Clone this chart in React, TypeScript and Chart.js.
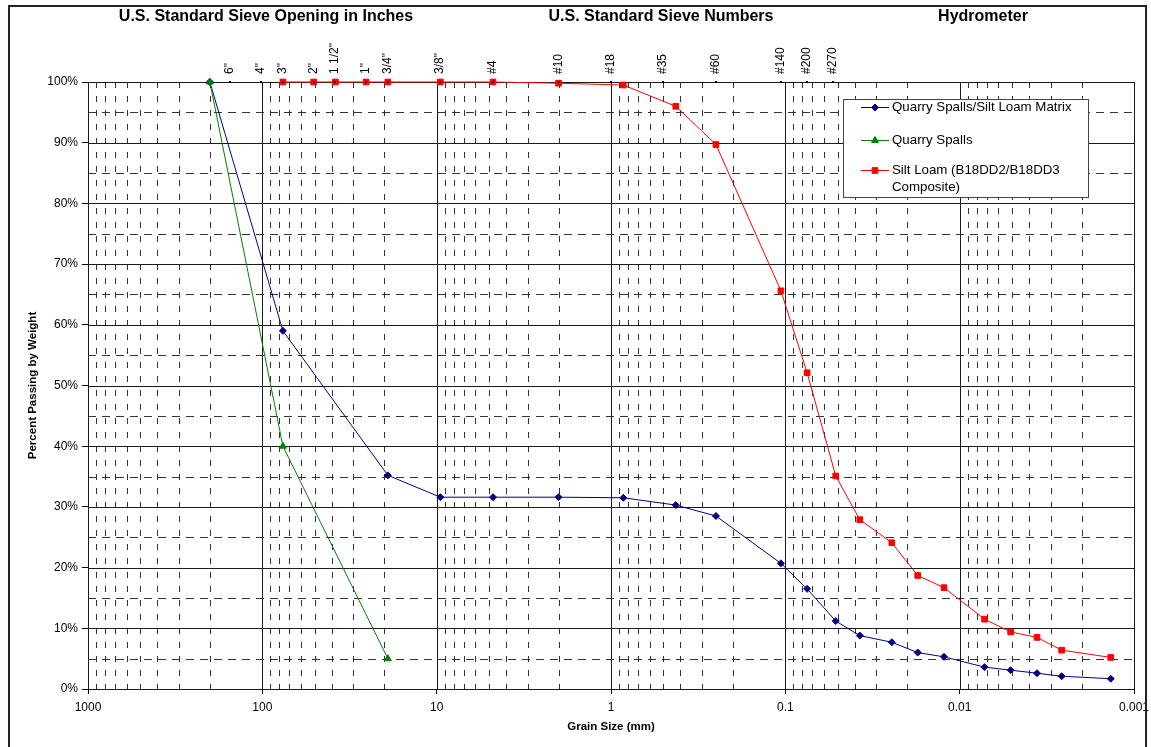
import React, { useEffect, useRef } from "react";
import { Chart, registerables } from "chart.js";
import { drawPoint } from "chart.js/helpers";

Chart.register(...registerables);

const FONT = "'Liberation Sans', Arial, Helvetica, sans-serif";

// Grain size (mm) and percent passing
const matrixSizes = [200, 76.2, 19.05, 9.525, 4.75, 2.0, 0.85, 0.425, 0.25, 0.106, 0.075, 0.0514, 0.0374, 0.0245, 0.0174, 0.0123, 0.0072, 0.0051, 0.0036, 0.0026, 0.00136];
const matrixPassing = [100, 59.0, 35.2, 31.6, 31.6, 31.6, 31.5, 30.3, 28.5, 20.7, 16.5, 11.2, 8.8, 7.7, 6.0, 5.3, 3.6, 3.1, 2.6, 2.1, 1.7];

const spallsSizes = [200, 76.2, 19.05];
const spallsPassing = [100, 40.0, 5.0];

const siltSizes = [76.2, 50.8, 38.1, 25.4, 19.05, 9.525, 4.75, 2.0, 0.85, 0.425, 0.25, 0.106, 0.075, 0.0514, 0.0374, 0.0245, 0.0174, 0.0123, 0.0072, 0.0051, 0.0036, 0.0026, 0.00136];
const siltPassing = [100, 100, 100, 100, 100, 100, 100, 99.8, 99.5, 96.0, 89.7, 65.6, 52.1, 35.1, 27.9, 24.1, 18.7, 16.7, 11.5, 9.4, 8.5, 6.4, 5.2];

const seriesNames = ["Quarry Spalls/Silt Loam Matrix", "Quarry Spalls", "Silt Loam (B18DD2/B18DD3 Composite)"];
const legendLines = [["Quarry Spalls/Silt Loam Matrix"], ["Quarry Spalls"], ["Silt Loam (B18DD2/B18DD3", "Composite)"]];

const sieveLabels = ['6"', '4"', '3"', '2"', '1 1/2"', '1"', '3/4"', '3/8"', "#4", "#10", "#18", "#35", "#60", "#140", "#200", "#270"];
const sieveSizes = [152.4, 101.6, 76.2, 50.8, 38.1, 25.4, 19.05, 9.525, 4.75, 2.0, 1.0, 0.5, 0.25, 0.106, 0.075, 0.053];

const headerTitles = ["U.S. Standard Sieve Opening in Inches", "U.S. Standard Sieve Numbers", "Hydrometer"];

const xTickValues = [1000, 100, 10, 1, 0.1, 0.01, 0.001];
const yTickValues = [0, 10, 20, 30, 40, 50, 60, 70, 80, 90, 100];
const yHalfValues = [5, 15, 25, 35, 45, 55, 65, 75, 85, 95];

const toPoints = (xs: number[], ys: number[]) => xs.map((x, i) => ({ x, y: ys[i] }));

const decorPlugin = {
  id: "decor",
  beforeDatasetsDraw(chart: any) {
    const { ctx, chartArea: a, scales } = chart;
    const xs = scales.x;
    const ys = scales.y;
    ctx.save();
    ctx.lineWidth = 1;
    // minor vertical dashed lines
    ctx.strokeStyle = "#333";
    ctx.setLineDash([6, 8]);
    for (let e = -3; e < 3; e++) {
      const d = Math.pow(10, e);
      for (let m = 2; m <= 9; m++) {
        const x = Math.round(xs.getPixelForValue(m * d)) + 0.5;
        ctx.beginPath();
        ctx.moveTo(x, a.top);
        ctx.lineTo(x, a.bottom);
        ctx.stroke();
      }
    }
    // half-step horizontal dashed
    ctx.setLineDash([8, 6]);
    ctx.strokeStyle = "#333";
    yHalfValues.forEach((v) => {
      const y = Math.round(ys.getPixelForValue(v)) + 0.5;
      ctx.beginPath();
      ctx.moveTo(a.left, y);
      ctx.lineTo(a.right, y);
      ctx.stroke();
    });
    ctx.setLineDash([]);
    ctx.strokeStyle = "#1a1a1a";
    xTickValues.forEach((v) => {
      const x = Math.round(xs.getPixelForValue(v)) + 0.5;
      ctx.beginPath();
      ctx.moveTo(x, a.top);
      ctx.lineTo(x, a.bottom);
      ctx.stroke();
    });
    yTickValues.forEach((v) => {
      const y = Math.round(ys.getPixelForValue(v)) + 0.5;
      ctx.beginPath();
      ctx.moveTo(a.left, y);
      ctx.lineTo(a.right, y);
      ctx.stroke();
    });
    ctx.restore();
  },
  afterDatasetsDraw(chart: any) {
    const { ctx, chartArea: a, scales } = chart;
    const xs = scales.x;
    ctx.save();
    // sieve marks and labels
    ctx.fillStyle = "#000";
    ctx.font = `12px ${FONT}`;
    sieveSizes.forEach((s, i) => {
      const x = xs.getPixelForValue(s);
      ctx.fillRect(Math.round(x) - 1, Math.round(a.top) - 1, 2, 2);
      ctx.save();
      ctx.translate(Math.round(x), a.top - 8);
      ctx.rotate(-Math.PI / 2);
      ctx.textAlign = "left";
      ctx.textBaseline = "middle";
      ctx.fillText(sieveLabels[i], 0, 0);
      ctx.restore();
    });
    // header titles
    ctx.font = `bold 16px ${FONT}`;
    ctx.textAlign = "center";
    ctx.textBaseline = "middle";
    const headerX = [266, 661, 983];
    headerTitles.forEach((t, i) => ctx.fillText(t, headerX[i], 17));

    // legend
    const lx = 843, ly = 99, lw = 245, lh = 98;
    ctx.fillStyle = "#fff";
    ctx.fillRect(lx, ly, lw, lh);
    ctx.strokeStyle = "#444";
    ctx.lineWidth = 1;
    ctx.strokeRect(lx + 0.5, ly + 0.5, lw, lh);
    const rowY = [107, 140, 170];
    ctx.font = `13.3px ${FONT}`;
    ctx.textAlign = "left";
    ctx.textBaseline = "middle";
    chart.data.datasets.forEach((ds: any, i: number) => {
      const y = rowY[i];
      ctx.strokeStyle = ds.borderColor;
      ctx.lineWidth = 1;
      ctx.beginPath();
      ctx.moveTo(861, y + 0.5);
      ctx.lineTo(889, y + 0.5);
      ctx.stroke();
      ctx.fillStyle = ds.pointBackgroundColor;
      ctx.strokeStyle = ds.pointBorderColor;
      drawPoint(ctx, { pointStyle: ds.pointStyle, radius: ds.pointRadius, borderWidth: 1, rotation: 0 }, 875, y + 0.5);
      ctx.fillStyle = "#000";
      legendLines[i].forEach((line, k) => ctx.fillText(line, 892, y + k * 17));
    });

    // outer frame
    ctx.strokeStyle = "#222";
    ctx.lineWidth = 2;
    ctx.strokeRect(9, 6, 1137, 760);
    ctx.restore();
  },
};

export default function App() {
  const ref = useRef<HTMLCanvasElement | null>(null);
  useEffect(() => {
    if (!ref.current) return;
    const chart = new Chart(ref.current, {
      type: "line",
      data: {
        datasets: [
          {
            label: seriesNames[0],
            data: toPoints(matrixSizes, matrixPassing),
            borderColor: "#000080",
            backgroundColor: "#000080",
            pointBackgroundColor: "#000080",
            pointBorderColor: "#000080",
            pointStyle: "rectRot",
            pointRadius: 3.5,
            pointBorderWidth: 1,
            borderWidth: 1,
            tension: 0,
            clip: false,
            order: 2,
          },
          {
            label: seriesNames[1],
            data: toPoints(spallsSizes, spallsPassing),
            borderColor: "#008000",
            backgroundColor: "#008000",
            pointBackgroundColor: "#008000",
            pointBorderColor: "#008000",
            pointStyle: "triangle",
            pointRadius: 4,
            pointBorderWidth: 1,
            borderWidth: 1,
            tension: 0,
            clip: false,
            order: 1,
          },
          {
            label: seriesNames[2],
            data: toPoints(siltSizes, siltPassing),
            borderColor: "#ff0000",
            backgroundColor: "#ff0000",
            pointBackgroundColor: "#ff0000",
            pointBorderColor: "#ff0000",
            pointStyle: "rect",
            pointRadius: 4,
            pointBorderWidth: 1,
            borderWidth: 1,
            tension: 0,
            clip: false,
            order: 3,
          },
        ],
      },
      options: {
        responsive: false,
        animation: false,
        devicePixelRatio: 1,
        layout: { padding: { top: 82, right: 17, left: 0, bottom: 0 } },
        plugins: { legend: { display: false }, tooltip: { enabled: false } },
        scales: {
          x: {
            type: "logarithmic",
            min: 0.001,
            max: 1000,
            reverse: true,
            afterBuildTicks: (scale: any) => {
              scale.ticks = xTickValues.map((v) => ({ value: v }));
            },
            afterFit: (scale: any) => {
              scale.height = 58;
              scale.paddingLeft = 0;
              scale.paddingRight = 0;
            },
            ticks: {
              autoSkip: false,
              maxRotation: 0,
              padding: 6,
              color: "#000",
              font: { family: FONT, size: 12 },
              callback: (v: any) => String(Number(v)),
            },
            grid: { drawOnChartArea: false, drawTicks: true, tickLength: 5, color: "#000" },
            border: { display: true, color: "#000" },
            title: {
              display: true,
              text: "Grain Size (mm)",
              color: "#000",
              font: { family: FONT, size: 11.5, weight: "bold" },
              padding: { top: 0, bottom: 13 },
            },
          },
          y: {
            type: "linear",
            min: 0,
            max: 100,
            afterBuildTicks: (scale: any) => {
              scale.ticks = yTickValues.map((v) => ({ value: v }));
            },
            afterFit: (scale: any) => {
              scale.width = 88;
            },
            ticks: {
              padding: 4,
              color: "#000",
              font: { family: FONT, size: 12 },
              callback: (v: any) => `${v}%`,
            },
            grid: { drawOnChartArea: false, drawTicks: true, tickLength: 6, color: "#000" },
            border: { display: true, color: "#000" },
            title: {
              display: true,
              text: "Percent Passing by Weight",
              color: "#000",
              font: { family: FONT, size: 11.5, weight: "bold" },
              padding: { top: 26, bottom: 0 },
            },
          },
        },
      },
      plugins: [decorPlugin],
    } as any);
    return () => chart.destroy();
  }, []);
  return (
    <div style={{ position: "absolute", left: 0, top: 0, width: 1151, height: 747, background: "#fff" }}>
      <canvas ref={ref} width={1151} height={747} style={{ display: "block", width: 1151, height: 747 }} />
    </div>
  );
}
